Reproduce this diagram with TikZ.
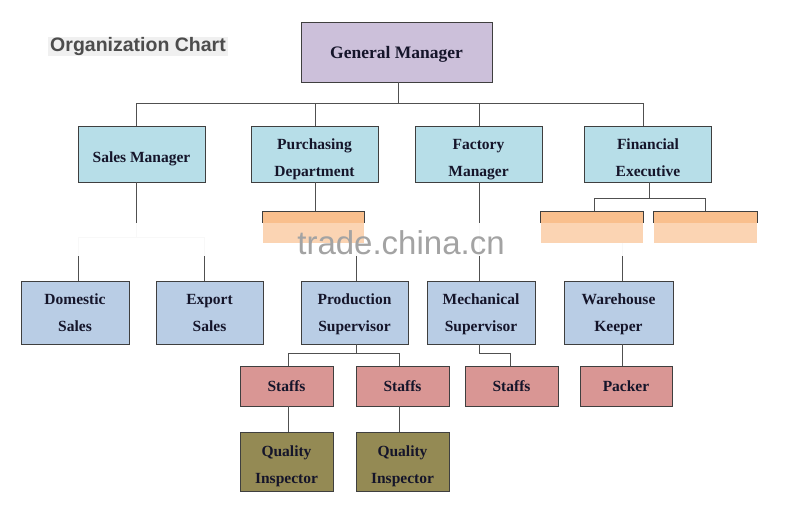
\documentclass[tikz,border=0pt]{standalone}
\usepackage{fontspec}
\setmainfont{Liberation Serif}
\newfontfamily\titlefont{Liberation Sans}
\definecolor{lilac}{HTML}{CCC0DA}
\definecolor{aqua}{HTML}{B7DEE8}
\definecolor{steel}{HTML}{B9CDE5}
\definecolor{pinkb}{HTML}{D99694}
\definecolor{oliveb}{HTML}{948A54}
\definecolor{orT}{HTML}{F9BF8D}
\definecolor{orL}{HTML}{FBD4B3}
\definecolor{bd}{HTML}{3F3F3F}
\definecolor{ln}{HTML}{505050}
\definecolor{txt}{HTML}{15152A}
\newcommand\twoline[3]{\raisebox{-#1}[0pt][0pt]{\begin{tabular}{@{}c@{}}#2\\#3\end{tabular}}}
\pgfdeclarelayer{band}
\pgfdeclarelayer{top}
\pgfsetlayers{main,band,top}
\tikzset{
  box/.style={rectangle, draw=bd, line width=0.9pt, inner sep=0pt, align=center,
    text=txt, font=\bfseries\fontsize{15.5}{27}\selectfont},
  textdown/.style={execute at begin node={\rule{0pt}{#1}}},
  rowtwo/.style={box, fill=aqua, minimum width=127pt, minimum height=56pt},
  rowthree/.style={box, fill=steel, minimum width=108pt, minimum height=63pt},
  staffbox/.style={box, fill=pinkb, minimum width=93pt, minimum height=40pt},
  qualbox/.style={box, fill=oliveb, minimum width=93pt, minimum height=59pt},
  orbox/.style={rectangle, fill=orL, draw=none, inner sep=0pt, minimum height=31pt},
  conn/.style={draw=ln, line width=0.9pt},
}
\begin{document}
\begin{tikzpicture}[x=1pt,y=-1pt]
\useasboundingbox[fill=white] (0,0) rectangle (800,510);

% title
\node[fill=black!6, inner sep=0pt, minimum width=180pt, minimum height=19pt,
  text=black!70, font=\titlefont\bfseries\fontsize{19.5}{20}\selectfont] (title) at (138,46.5) {Organization Chart};

% top
\node[box, fill=lilac, minimum width=191pt, minimum height=60pt, textdown=17pt,
  font=\bfseries\fontsize{17.5}{20}\selectfont] (gm) at (396.5,52) {General Manager};

% row 2
\node[rowtwo, textdown=20.5pt] (sm) at (141.5,154) {Sales Manager};
\node[rowtwo] (pd) at (314.5,154) {\twoline{7.7pt}{Purchasing}{Department}};
\node[rowtwo] (fm) at (478.5,154) {\twoline{7.7pt}{Factory}{Manager}};
\node[rowtwo] (fe) at (648,154) {\twoline{7.7pt}{Financial}{Executive}};

% orange boxes (on top of the watermark band)
\begin{pgfonlayer}{top}
\node[orbox, minimum width=101pt] (ob1) at (313.5,227.5) {};
\node[orbox, minimum width=102pt] (ob2) at (592,227.5) {};
\node[orbox, minimum width=103pt] (ob3) at (705.5,227.5) {};
\foreach \o in {ob1,ob2,ob3}{
  \fill[orT] (\o.north west) rectangle ([yshift=-11pt]\o.north east);
  \draw[bd, line width=0.9pt] ([yshift=-11pt]\o.north west) -- (\o.north west) -- (\o.north east) -- ([yshift=-11pt]\o.north east);
}
\end{pgfonlayer}

% row 3
\node[rowthree] (ds) at (75,312.5) {\twoline{3.7pt}{Domestic}{Sales}};
\node[rowthree, minimum width=107pt] (es) at (209.5,312.5) {\twoline{3.7pt}{Export}{Sales}};
\node[rowthree, minimum width=107pt] (ps) at (354.5,312.5) {\twoline{3.7pt}{Production}{Supervisor}};
\node[rowthree] (ms) at (481,312.5) {\twoline{3.7pt}{Mechanical}{Supervisor}};
\node[rowthree, minimum width=109pt] (wk) at (618.5,312.5) {\twoline{3.7pt}{Warehouse}{Keeper}};

% row 4
\node[staffbox] (s1) at (286.5,386) {Staffs};
\node[staffbox] (s2) at (402.5,386) {Staffs};
\node[staffbox] (s3) at (511.5,386) {Staffs};
\node[staffbox, minimum width=92pt] (pk) at (626,386) {Packer};

% row 5
\node[qualbox] (q1) at (286.5,461.5) {\twoline{6.2pt}{Quality}{Inspector}};
\node[qualbox] (q2) at (402.5,461.5) {\twoline{6.2pt}{Quality}{Inspector}};

% connectors
\coordinate (bus) at (0,103);
\coordinate (salesbus) at (0,237);
\coordinate (finbus) at (0,198);
\coordinate (psbus) at (0,353.5);
\draw[conn] ([xshift=1.5pt]gm.south) -- ([xshift=1.5pt]gm.south |- bus);
\draw[conn] ([xshift=-5.5pt]sm.north) -- ([xshift=-5.5pt]sm.north |- bus) -| ([xshift=-5pt]fe.north);
\draw[conn] ([xshift=1pt]pd.north) -- ([xshift=1pt]pd.north |- bus);
\draw[conn] ([xshift=0.5pt]fm.north) -- ([xshift=0.5pt]fm.north |- bus);

\draw[conn] ([xshift=-5.5pt]sm.south) -- ([xshift=-5.5pt]sm.south |- salesbus);
\draw[conn] ([xshift=3pt]ds.north) -- ([xshift=3pt]ds.north |- salesbus) -| ([xshift=-5.5pt]es.north);

\draw[conn] ([xshift=1pt]pd.south) -- ([xshift=1pt]pd.south |- ob1.north);
\draw[conn] ([xshift=1.5pt]ps.north) -- ([xshift=1.5pt]ps.north |- ob1.south);

\draw[conn] ([xshift=0.5pt]fm.south) -- ([xshift=0.5pt]fm.south |- ms.north);

\draw[conn] ([xshift=1pt]fe.south) -- ([xshift=1pt]fe.south |- finbus);
\draw[conn] ([xshift=2pt]ob2.north) -- ([xshift=2pt]ob2.north |- finbus) -| ([xshift=-0.5pt]ob3.north);
\draw[conn] ([xshift=3.5pt]wk.north) -- ([xshift=3.5pt]wk.north |- ob2.south);

\draw[conn] ([xshift=1.5pt]ps.south) -- ([xshift=1.5pt]ps.south |- psbus);
\draw[conn] ([xshift=1.5pt]s1.north) -- ([xshift=1.5pt]s1.north |- psbus) -| ([xshift=-3.5pt]s2.north);
\draw[conn] ([xshift=-1.5pt]ms.south) -- ([xshift=-1.5pt]ms.south |- psbus) -| ([xshift=-1.5pt]s3.north);
\draw[conn] ([xshift=3.5pt]wk.south) -- ([xshift=3.5pt]wk.south |- pk.north);

\draw[conn] ([xshift=1.5pt]s1.south) -- ([xshift=1.5pt]s1.south |- q1.north);
\draw[conn] ([xshift=-3.5pt]s2.south) -- ([xshift=-3.5pt]s2.south |- q2.north);

% watermark band
\begin{pgfonlayer}{band}
\fill[white, opacity=0.96] (0,223) rectangle (800,256);
\end{pgfonlayer}
\begin{pgfonlayer}{top}
\node[anchor=base, inner sep=0pt, text=black!36, font=\titlefont\fontsize{33}{33}\selectfont] (wm) at (401,255) {trade.china.cn};
\end{pgfonlayer}
\end{tikzpicture}
\end{document}
